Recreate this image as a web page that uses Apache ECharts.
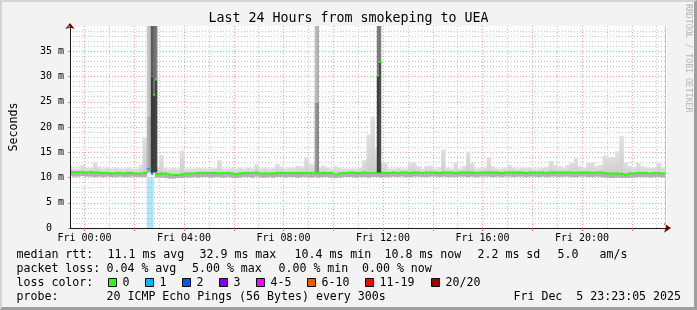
<!DOCTYPE html>
<html><head><meta charset="utf-8">
<script src="https://cdn.jsdelivr.net/npm/echarts@6/dist/echarts.min.js"></script>
<style>
html,body{margin:0;padding:0;background:#f3f3f3;}
#wrap{position:relative;width:697px;height:310px;overflow:hidden;}
#c{width:697px;height:310px;}
#frame{position:absolute;left:0;top:0;width:697px;height:310px;box-sizing:border-box;border-top:2px solid #d4d4d4;border-left:2px solid #d4d4d4;border-right:3px solid #9e9e9e;border-bottom:3px solid #9e9e9e;pointer-events:none;}
</style></head><body>
<div id="wrap"><div id="c"></div><div id="frame"></div></div>
<script>
// ---------- DATA (times in minutes from Fri 00:00, values in ms) ----------
const stepStartMin = -40;
const stepMinutes = 10;
const medianMs = [
 11.2, 11.1, 11.1, 11.1, 11.0, 11.1, 11.0, 11.0, 10.9, 10.9,
 10.8, 10.9, 10.9, 10.8, 10.9, 10.9, 10.8, 10.8, 10.9, null,
 null, 10.7, 10.8, 10.8, 10.6, 10.5, 10.5, 10.6, 10.8, 10.8,
 10.8, 10.9, 10.9, 10.9, 10.9, 10.9, 10.8, 10.9, 10.9, 10.8,
 10.7, 10.8, 10.9, 10.9, 10.9, 11.0, 10.8, 10.8, 10.8, 10.8,
 10.9, 10.9, 10.9, 10.9, 10.9, 10.9, 10.9, 10.9, 10.9, 10.9,
 10.8, 10.9, 10.9, 10.9, 10.6, 10.8, 10.9, 10.9, 11.0, 10.9,
 10.9, 11.0, 10.9, 10.9, 10.9, 10.9, 10.9, 10.9, 11.0, 10.9,
 11.0, 11.0, 10.9, 11.0, 11.0, 10.9, 11.0, 11.0, 11.0, 10.9,
 11.0, 11.0, 11.0, 10.9, 11.0, 11.0, 11.0, 11.0, 10.9, 11.0,
 11.0, 11.0, 11.0, 11.0, 10.9, 11.0, 11.0, 11.0, 11.0, 11.0,
 10.9, 11.0, 11.0, 11.0, 11.0, 10.9, 11.0, 11.0, 11.0, 11.0,
 11.0, 11.0, 10.9, 11.0, 11.0, 11.0, 10.9, 11.0, 11.0, 10.9,
 10.8, 10.8, 10.8, 10.7, 10.6, 10.8, 10.8, 10.9, 10.9, 10.9,
 10.8, 10.9, 10.9, 10.8
];
const smokeLowMs = [
 10.3, 10.2, 10.2, 10.3, 10.2, 10.2, 10.1, 10.2, 10.1, 10.2,
 10.1, 10.1, 10.2, 10.1, 10.1, 10.2, 10.1, 10.1, 10.1, null,
 null, 10.0, 10.0, 9.9, 9.8, 9.8, 9.9, 9.9, 10.0, 10.0,
 10.1, 10.0, 10.1, 10.1, 10.0, 10.1, 10.1, 10.0, 10.1, 10.0,
 9.9, 10.0, 10.1, 10.1, 10.0, 10.2, 10.0, 10.0, 10.1, 10.0,
 10.1, 10.1, 10.0, 10.1, 10.1, 10.0, 10.1, 10.1, 10.0, 10.1,
 10.0, 10.1, 10.1, 10.0, 9.9, 10.0, 10.1, 10.1, 10.1, 10.0,
 10.1, 10.1, 10.0, 10.1, 10.1, 10.0, 10.1, 10.1, 10.2, 10.1,
 10.2, 10.1, 10.1, 10.2, 10.2, 10.1, 10.1, 10.2, 10.2, 10.1,
 10.2, 10.1, 10.1, 10.1, 10.2, 10.2, 10.1, 10.2, 10.1, 10.2,
 10.2, 10.2, 10.1, 10.2, 10.1, 10.2, 10.2, 10.1, 10.2, 10.2,
 10.1, 10.2, 10.2, 10.1, 10.2, 10.1, 10.2, 10.2, 10.1, 10.2,
 10.2, 10.1, 10.1, 10.2, 10.2, 10.1, 10.1, 10.2, 10.1, 10.0,
 10.0, 9.9, 10.0, 9.9, 9.9, 10.0, 10.0, 10.1, 10.1, 10.1,
 10.0, 10.1, 10.1, 10.0
];
const smokeHighMs = [
 12.3, 11.8, 11.8, 12.5, 11.9, 11.9, 13.0, 12.2, 11.8, 12.1,
 11.8, 12.0, 11.8, 11.8, 12.0, 11.8, 11.8, 12.5, 17.9, null,
 null, 12.0, 14.5, 12.0, 11.8, 12.0, 11.8, 15.3, 11.8, 11.8,
 11.8, 11.9, 11.8, 11.8, 11.8, 12.0, 13.5, 11.8, 11.8, 11.9,
 11.8, 12.0, 11.8, 12.0, 11.8, 12.7, 11.8, 12.0, 11.8, 12.0,
 12.7, 12.2, 11.8, 12.0, 12.0, 12.3, 12.2, 14.0, 12.7, 12.5,
 12.0, 12.4, 12.0, 11.8, 12.3, 12.0, 11.8, 11.8, 11.8, 11.8,
 12.0, 13.5, 18.5, 22.1, 15.9, 13.0, 13.0, 11.8, 11.8, 12.0,
 11.8, 11.8, 13.0, 13.1, 12.3, 11.8, 12.3, 12.3, 11.8, 12.0,
 15.5, 12.0, 11.8, 13.0, 11.8, 12.3, 15.1, 12.9, 11.8, 11.9,
 12.0, 14.0, 12.2, 11.8, 11.8, 12.0, 12.5, 12.0, 11.8, 12.0,
 11.9, 12.0, 11.8, 11.8, 12.0, 12.2, 13.3, 12.5, 12.3, 12.0,
 12.5, 12.9, 13.9, 12.3, 12.0, 12.9, 12.9, 12.3, 12.5, 14.3,
 14.1, 14.1, 15.2, 18.2, 12.9, 12.3, 12.0, 12.9, 12.3, 12.0,
 11.9, 12.0, 12.9, 12.0
];
// 5-minute steps with very high rtt spread (spikes)
const eventMinutes = 5;
const eventStartMin   = [150, 155, 160, 165, 170, 555, 560, 705, 710];
const eventLowMs      = [11.0, 11.0, 10.9, 11.0, 11.0, 11.0, 11.0, 11.0, 11.0];
const eventSplitMs    = [22.0, 22.0, 30.0, 26.4, 29.4, 24.8, 24.8, 30.2, 32.9];
const eventHighMs     = [45, 45, 45, 45, 45, 45, 45, 45, 45];
const eventLowerDensity = [0.26, 0.35, 0.95, 0.94, 0.89, 0.41, 0.50, 0.94, 0.86];
const eventUpperDensity = [0.14, 0.21, 0.77, 0.66, 0.60, 0.21, 0.28, 0.58, 0.58];
const eventMedianMs   = [11.7, 11.7, 10.7, 26.4, 29.4, 10.9, 10.9, 30.2, 32.9];
const eventLoss       = [1, 1, 1, 0, 0, 0, 0, 0, 0];
// loss bar
const lossBarStartMin = [150];
const lossBarEndMin = [167];
const lossBarTopMs = [10.0];
const lossBarLoss = [1];
const lastUpdateMin = 1400;

const xMinMin = -35, xMaxMin = 1405;
const xLabelValues = [0, 240, 480, 720, 960, 1200];
const xLabels = ['Fri 00:00', 'Fri 04:00', 'Fri 08:00', 'Fri 12:00', 'Fri 16:00', 'Fri 20:00'];
const xMajorGrid = [0, 120, 240, 360, 480, 600, 720, 840, 960, 1080, 1200, 1320];
const xMinorGrid = [60, 180, 300, 420, 540, 660, 780, 900, 1020, 1140, 1260, 1380];
const yLabelValues = [0, 5, 10, 15, 20, 25, 30, 35];
const yLabels = ['0  ', '5 m', '10 m', '15 m', '20 m', '25 m', '30 m', '35 m'];

const lossLabels = ['0', '1', '2', '3', '4-5', '6-10', '11-19', '20/20'];
const lossColors = ['#26ff00', '#00b8ff', '#0059ff', '#7e00ff', '#ff00ff', '#ff5500', '#ff0000', '#a10000'];
const rttStats = ['median rtt:', '11.1 ms avg', '32.9 ms max', '10.4 ms min', '10.8 ms now', '2.2 ms sd', '5.0', 'am/s'];
const lossStats = ['packet loss:', '0.04 % avg', '5.00 % max', '0.00 % min', '0.00 % now'];
const probeText = ['probe:', '20 ICMP Echo Pings (56 Bytes) every 300s'];
const dateText = 'Fri Dec  5 23:23:05 2025';
const titleText = 'Last 24 Hours from smokeping to UEA';

// ---------- build ----------
const MONO = "'DejaVu Sans Mono', monospace";
const greyFor = d => { const g = Math.round(225 - 175 * d); return 'rgb(' + g + ',' + g + ',' + g + ')'; };

const smokeData = [];
medianMs.forEach((m, i) => {
  if (m == null) return;
  const t0 = stepStartMin + i * stepMinutes;
  smokeData.push([t0, t0 + stepMinutes, smokeLowMs[i], smokeHighMs[i], m, 0]);
});
const eventData = eventStartMin.map((t, i) => [t, t + eventMinutes, eventLowMs[i], eventHighMs[i], eventSplitMs[i], eventLowerDensity[i], eventUpperDensity[i], eventMedianMs[i], eventLoss[i]]);
const lossData = lossBarStartMin.map((t, i) => [t, lossBarEndMin[i], 0, lossBarTopMs[i], lossBarLoss[i]]);

function rectOf(api, t0, t1, v0, v1, style, pad) {
  const a = api.coord([t0, v0]), b = api.coord([t1, v1]);
  return {type: 'rect', shape: {x: a[0], y: b[1], width: b[0] - a[0] + (pad || 0), height: a[1] - b[1]}, style: style};
}
function medianRect(api, t0, t1, m, loss) {
  const a = api.coord([t0, m]), b = api.coord([t1, m]);
  return {type: 'rect', shape: {x: a[0], y: a[1] - 1, width: b[0] - a[0] + 0.3, height: 2}, style: {fill: lossColors[loss]}};
}
const lightGrad = new echarts.graphic.LinearGradient(0, 0, 0, 1, [{offset: 0, color: '#e0e0e0'}, {offset: 1, color: '#cacaca'}]);

const chart = echarts.init(document.getElementById('c'), null, {renderer: 'canvas', width: 697, height: 310});

const graphics = [];
graphics.push({type: 'text', x: 348.5, y: 19, style: {text: titleText, font: '13.3px ' + MONO, fill: '#000', align: 'center', verticalAlign: 'middle'}});
graphics.push({type: 'text', x: 688, y: 4, rotation: -Math.PI / 2, style: {text: 'RRDTOOL / TOBI OETIKER', font: '8.2px ' + MONO, fill: '#b4b4b4', align: 'left', verticalAlign: 'middle'}});
const rttX = [16.5, 107.5, 199.5, 294.5, 384.5, 477.5, 557.5, 599.5];
rttStats.forEach((s, i) => graphics.push({type: 'text', x: rttX[i], y: 254.5, style: {text: s, font: '11.6px ' + MONO, fill: '#000', align: 'left', verticalAlign: 'middle'}}));
const lossX = [16.5, 106.5, 192, 278.5, 362];
lossStats.forEach((s, i) => graphics.push({type: 'text', x: lossX[i], y: 268.5, style: {text: s, font: '11.6px ' + MONO, fill: '#000', align: 'left', verticalAlign: 'middle'}}));
graphics.push({type: 'text', x: 16.5, y: 282.5, style: {text: 'loss color:', font: '11.6px ' + MONO, fill: '#000', align: 'left', verticalAlign: 'middle'}});
const boxX = [108, 145, 182, 219, 256, 307, 365, 431];
lossLabels.forEach((s, i) => {
  graphics.push({type: 'rect', shape: {x: boxX[i] + 0.5, y: 278.5, width: 8, height: 8}, style: {fill: lossColors[i], stroke: '#000', lineWidth: 1}});
  graphics.push({type: 'text', x: boxX[i] + 14.5, y: 282.5, style: {text: s, font: '11.6px ' + MONO, fill: '#000', align: 'left', verticalAlign: 'middle'}});
});
const probeX = [16.5, 106.5];
probeText.forEach((s, i) => graphics.push({type: 'text', x: probeX[i], y: 296.5, style: {text: s, font: '11.6px ' + MONO, fill: '#000', align: 'left', verticalAlign: 'middle'}}));
graphics.push({type: 'text', x: 681, y: 296.5, style: {text: dateText, font: '11.6px ' + MONO, fill: '#000', align: 'right', verticalAlign: 'middle'}});

const dotted = [1, 2];
const option = {
  animation: false,
  backgroundColor: '#f3f3f3',
  grid: {left: 67, right: 30, top: 26, bottom: 82, show: true, backgroundColor: '#ffffff', borderWidth: 0},
  xAxis: [
    {type: 'value', position: 'bottom', min: xMinMin, max: xMaxMin, z: 5,
     axisLine: {show: true, onZero: false, lineStyle: {color: '#1a1a1a', width: 1}},
     axisTick: {show: true, customValues: xMajorGrid, length: 3, lineStyle: {color: '#e07a7a'}},
     axisLabel: {show: true, customValues: xLabelValues, margin: 5, fontFamily: MONO, fontSize: 10, color: '#000',
       formatter: v => { const k = xLabelValues.indexOf(v); return k >= 0 ? xLabels[k] : ''; }},
     splitLine: {show: false}},
    {type: 'value', position: 'bottom', min: xMinMin, max: xMaxMin, z: 0,
     axisLine: {show: true, onZero: false, symbol: ['none', 'arrow'], symbolSize: [7, 7], symbolOffset: [0, 4], lineStyle: {color: '#7f0000', width: 0}},
     axisTick: {show: false, customValues: xMinorGrid}, axisLabel: {show: false},
     splitLine: {show: true, lineStyle: {color: '#c8c8c8', type: dotted, width: 1}}},
    {type: 'value', position: 'bottom', min: xMinMin, max: xMaxMin, z: 1,
     axisLine: {show: false, onZero: false}, axisTick: {show: false, customValues: xMajorGrid}, axisLabel: {show: false},
     splitLine: {show: true, lineStyle: {color: '#eea4a4', type: dotted, width: 1}}}
  ],
  yAxis: [
    {type: 'value', position: 'left', min: 0, max: 40, interval: 5, z: 5,
     axisLine: {show: true, onZero: false, lineStyle: {color: '#1a1a1a', width: 1}},
     axisTick: {show: true, length: 2, lineStyle: {color: '#e07a7a'}},
     axisLabel: {margin: 6, fontFamily: MONO, fontSize: 10, color: '#000',
       formatter: v => { const k = yLabelValues.indexOf(v); return k >= 0 ? yLabels[k] : ''; }},
     splitLine: {show: false},
     name: 'Seconds', nameLocation: 'middle', nameGap: 50,
     nameTextStyle: {fontFamily: MONO, fontSize: 11.6, color: '#000'}},
    {type: 'value', position: 'left', min: 0, max: 40, interval: 5, z: 0,
     axisLine: {show: true, onZero: false, symbol: ['none', 'arrow'], symbolSize: [7, 6], symbolOffset: [0, 3], lineStyle: {color: '#7f0000', width: 0}},
     axisTick: {show: false}, axisLabel: {show: false},
     splitLine: {show: true, showMaxLine: false, showMinLine: false, lineStyle: {color: '#eea4a4', type: dotted, width: 1}},
     minorTick: {show: false, splitNumber: 5},
     minorSplitLine: {show: true, lineStyle: {color: '#c8c8c8', type: dotted, width: 1}}}
  ],
  series: [
    {type: 'custom', name: 'loss', xAxisIndex: 0, yAxisIndex: 0, clip: true, z: 2, silent: true,
     data: lossData, encode: {x: [0, 1], y: [2, 3]},
     renderItem: (p, api) => {
       const loss = api.value(4);
       return rectOf(api, api.value(0), api.value(1), api.value(2), api.value(3), {fill: lossColors[loss], opacity: 0.33}, 0);
     }},
    {type: 'custom', name: 'smoke', xAxisIndex: 0, yAxisIndex: 0, clip: true, z: 3, silent: true,
     data: smokeData, encode: {x: [0, 1], y: [2, 3]},
     renderItem: (p, api) => {
       const t0 = api.value(0), t1 = api.value(1), lo = api.value(2), hi = api.value(3), m = api.value(4), loss = api.value(5);
       return {type: 'group', children: [
         rectOf(api, t0, t1, lo, hi, {fill: lightGrad}, 0.4),
         rectOf(api, t0, t1, lo, m, {fill: '#b0b0b0'}, 0.4),
         medianRect(api, t0, t1, m, loss)
       ]};
     }},
    {type: 'custom', name: 'spikes', xAxisIndex: 0, yAxisIndex: 0, clip: true, z: 4, silent: true,
     data: eventData, encode: {x: [0, 1], y: [2, 3]},
     renderItem: (p, api) => {
       const t0 = api.value(0), t1 = api.value(1), lo = api.value(2), hi = api.value(3), sp = api.value(4);
       return {type: 'group', children: [
         rectOf(api, t0, t1, sp, hi, {fill: greyFor(api.value(6))}, 0.3),
         rectOf(api, t0, t1, lo, sp, {fill: greyFor(api.value(5))}, 0.3),
         medianRect(api, t0, t1, api.value(7), api.value(8))
       ]};
     }},
    {type: 'line', name: 'last', xAxisIndex: 0, yAxisIndex: 0, data: [], z: 1, silent: true,
     markLine: {silent: true, symbol: ['none', 'none'], label: {show: false}, animation: false,
       lineStyle: {color: '#f2b8b8', type: 'solid', width: 1}, data: [{xAxis: lastUpdateMin}]}}
  ],
  graphic: graphics
};
chart.setOption(option);
</script>
</body></html>
